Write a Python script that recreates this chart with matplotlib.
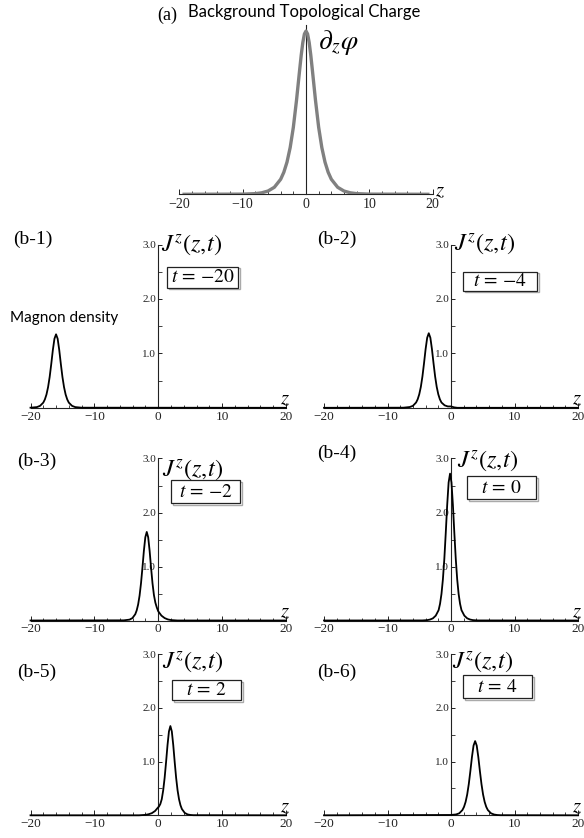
import matplotlib
matplotlib.use("Agg")
import matplotlib.pyplot as plt
from matplotlib import font_manager
from matplotlib.patches import Rectangle
from matplotlib.ticker import MultipleLocator

plt.rcParams['mathtext.fontset'] = 'stix'
plt.rcParams['font.family'] = ['Liberation Serif', 'DejaVu Serif']
plt.rcParams['axes.unicode_minus'] = True

W, H = 584, 838

# ---- data ----
# (a) background topological charge, arbitrary units (peak = 1)
A_Z = [-19.5, -10, -8, -7, -6, -5, -4, -3.5, -3, -2.5, -2, -1.5, -1, -0.75, -0.5, -0.25, 0,
       0.25, 0.5, 0.75, 1, 1.5, 2, 2.5, 3, 3.5, 4, 5, 6, 7, 8, 10, 19.5]
A_VAL = [0.0, 0.001, 0.004, 0.009, 0.020, 0.043, 0.092, 0.135, 0.197, 0.286, 0.410, 0.575, 0.763,
         0.854, 0.930, 0.982, 1.0,
         0.982, 0.930, 0.854, 0.763, 0.575, 0.410, 0.286, 0.197, 0.135, 0.092, 0.043, 0.020, 0.009,
         0.004, 0.001, 0.0]

# (b-1) t = -20
B1_Z = [-20, -19, -18.5, -18, -17.75, -17.5, -17.25, -17, -16.75, -16.5, -16.25, -16,
        -15.75, -15.5, -15.25, -15, -14.75, -14.5, -14.25, -14, -13.5, -13, -12, 20]
B1_J = [0.002, 0.013, 0.036, 0.095, 0.154, 0.244, 0.379, 0.567, 0.805, 1.062, 1.269, 1.35,
        1.269, 1.062, 0.805, 0.567, 0.379, 0.244, 0.154, 0.095, 0.036, 0.013, 0.002, 0.0]

# (b-2) t = -4
B2_Z = [-20, -7.5, -6.5, -6, -5.5, -5.25, -5, -4.75, -4.5, -4.25, -4, -3.75, -3.5,
        -3.25, -3, -2.75, -2.5, -2.25, -2, -1.75, -1.5, -1, -0.5, 0, 0.5, 1, 20]
B2_J = [0.0, 0.002, 0.014, 0.036, 0.097, 0.156, 0.248, 0.384, 0.575, 0.817, 1.077, 1.287, 1.37,
        1.287, 1.077, 0.817, 0.575, 0.384, 0.248, 0.156, 0.097, 0.045, 0.025, 0.025, 0.008, 0.0, 0.0]

# (b-3) t = -2
B3_Z = [-20, -5.4, -4.5, -4.05, -3.6, -3.375, -3.15, -2.925, -2.7, -2.475, -2.25, -2.025, -1.8,
        -1.575, -1.35, -1.125, -0.9, -0.675, -0.45, -0.225, 0, 0.5, 1, 1.5, 2, 3, 20]
B3_J = [0.0, 0.003, 0.016, 0.044, 0.116, 0.187, 0.296, 0.460, 0.689, 0.978, 1.290, 1.541, 1.64,
        1.541, 1.290, 0.978, 0.689, 0.470, 0.330, 0.240, 0.170, 0.090, 0.045, 0.020, 0.008, 0.0, 0.0]

# (b-4) t = 0
B4_Z = [-20, -4.5, -3.75, -3.3, -2.85, -2.4, -1.95, -1.725, -1.5, -1.275, -1.05, -0.825, -0.6,
        -0.375, -0.15, 0.075, 0.3, 0.525, 0.75, 0.975, 1.2, 1.425, 1.65, 2.1, 2.55, 3.0, 3.45,
        4.2, 20]
B4_J = [0.0, 0.001, 0.007, 0.018, 0.040, 0.090, 0.192, 0.310, 0.492, 0.763, 1.142, 1.623, 2.139,
        2.556, 2.72, 2.556, 2.139, 1.623, 1.142, 0.763, 0.492, 0.310, 0.192, 0.090, 0.040, 0.018,
        0.007, 0.001, 0.0]

# (b-5) t = 2
B5_Z = [-20, -3, -2, -1.5, -1, -0.5, 0, 0.1, 0.325, 0.55, 0.775, 1.0, 1.225, 1.45, 1.675, 1.9,
        2.125, 2.35, 2.575, 2.8, 3.025, 3.25, 3.475, 3.7, 4.15, 4.6, 5.05, 5.5, 20]
B5_J = [0.0, 0.0, 0.008, 0.020, 0.040, 0.080, 0.150, 0.160, 0.210, 0.300, 0.465, 0.697, 0.990,
        1.305, 1.560, 1.66,
        1.560, 1.305, 0.990, 0.697, 0.465, 0.300, 0.189, 0.117, 0.044, 0.016, 0.006, 0.002, 0.0]

# (b-6) t = 4
B6_Z = [-20, 0, 0.3, 0.8, 1.3, 1.8, 2.05, 2.3, 2.55, 2.8, 3.05, 3.3, 3.55, 3.8,
        4.05, 4.3, 4.55, 4.8, 5.05, 5.3, 5.55, 5.8, 6.3, 6.8, 7.3, 7.8, 20]
B6_J = [0.0, 0.006, 0.010, 0.016, 0.037, 0.098, 0.157, 0.249, 0.387, 0.580, 0.823, 1.085, 1.297, 1.38,
        1.297, 1.085, 0.823, 0.580, 0.387, 0.249, 0.157, 0.098, 0.037, 0.014, 0.005, 0.002, 0.0]

CURVES = [(B1_Z, B1_J), (B2_Z, B2_J), (B3_Z, B3_J), (B4_Z, B4_J), (B5_Z, B5_J), (B6_Z, B6_J)]
T_LABELS = ['-20', '-4', '-2', '0', '2', '4']
PANEL_LABELS = ['(b-1)', '(b-2)', '(b-3)', '(b-4)', '(b-5)', '(b-6)']
X_TICKS = [-20, -10, 0, 10, 20]
X_TICK_LABELS = ['\u221220', '\u221210', '0', '10', '20']
Y_TICKS = [1.0, 2.0, 3.0]
Y_TICK_LABELS = ['1.0', '2.0', '3.0']

# ---- layout (pixel coordinates of the reference) ----
COLS = [(30.5, 286.0), (324.0, 578.0)]
ROWS = [(244.5, 407.8), (458.5, 620.5), (654.0, 815.3)]
PANEL_LABEL_POS = [(13, 239), (317, 239), (17, 461), (317, 453), (17, 672), (317, 672)]
J_POS = [(161, 245), (454, 244), (162, 470), (457, 461), (162, 662), (452, 662)]
BOXES = [(167, 238, 267, 288), (463, 537, 272, 291), (171, 240, 480, 503),
         (467, 536, 476, 499), (172, 241, 680, 700), (463, 532, 675, 698)]

# a narrow sans for the two captions, if there is one
_names = {f.name for f in font_manager.fontManager.ttflist}
if 'Liberation Sans Narrow' in _names:
    CAPTION_FONT = ['Liberation Sans Narrow', 'DejaVu Sans']
    CAP_SIZE, MAG_SIZE = 13.5, 12
else:
    CAPTION_FONT = ['Lato', 'DejaVu Sans']
    CAP_SIZE, MAG_SIZE = 12, 11


def px_axes(fig, x0, x1, ytop, ybot):
    return fig.add_axes([x0 / W, 1 - ybot / H, (x1 - x0) / W, (ybot - ytop) / H])


def fig_text(fig, x, y, s, **kw):
    fig.text(x / W, 1 - y / H, s, **kw)


def style_axis(ax, xlab_size):
    for side in ('top', 'right'):
        ax.spines[side].set_visible(False)
    ax.spines['left'].set_position(('data', 0))
    for side in ('left', 'bottom'):
        ax.spines[side].set_linewidth(0.8)
        ax.spines[side].set_color('#222222')
    ax.set_xlim(-20, 20)
    ax.set_xticks(X_TICKS)
    ax.set_xticklabels(X_TICK_LABELS)
    ax.xaxis.set_minor_locator(MultipleLocator(2))
    ax.tick_params(axis='x', which='major', direction='in', length=3.5, width=0.7,
                   labelsize=xlab_size, pad=2, colors='#222222')
    ax.tick_params(axis='x', which='minor', direction='in', length=2, width=0.6, colors='#222222')
    ax.patch.set_visible(False)


fig = plt.figure(figsize=(W / 100, H / 100), dpi=100)

# ---- panel (a) ----
ax = px_axes(fig, 179.3, 432.7, 25.0, 194.3)
style_axis(ax, 10)
ax.set_ylim(0, 1.037)
ax.set_yticks([])
ax.tick_params(axis='x', pad=3)
ax.plot(A_Z, A_VAL, color='#808080', lw=2.4, solid_capstyle='butt', zorder=3)
ax.text(21.1, -0.01, r'$z$', fontsize=15, ha='center', va='baseline', clip_on=False)
ax.text(1.9, 0.93, r'$\partial_z\varphi$', fontsize=20, ha='left', va='center')
fig_text(fig, 157, 15, '(a)', fontsize=13, ha='left', va='center')
fig_text(fig, 188, 12, 'Background Topological Charge', fontsize=CAP_SIZE, ha='left', va='center',
         family=CAPTION_FONT)

# ---- panels (b-1) .. (b-6) ----
for i, (zs, js) in enumerate(CURVES):
    r, c = divmod(i, 2)
    x0, x1 = COLS[c]
    ytop, ybot = ROWS[r]
    ax = px_axes(fig, x0, x1, ytop, ybot)
    style_axis(ax, 9.5)
    ax.set_ylim(0, 3.0)
    ax.set_yticks(Y_TICKS)
    ax.set_yticklabels(Y_TICK_LABELS)
    ax.yaxis.set_minor_locator(MultipleLocator(0.5))
    ax.tick_params(axis='y', which='major', direction='in', length=3, width=0.7,
                   labelsize=8, pad=1.5, colors='#222222')
    ax.tick_params(axis='y', which='minor', direction='in', length=3, width=0.6, colors='#222222')
    ax.plot(zs, js, color='black', lw=1.3, zorder=3, clip_on=False)
    ax.text(19.8, 0.06, r'$z$', fontsize=15, ha='center', va='baseline', clip_on=False)

    lx, ly = PANEL_LABEL_POS[i]
    fig_text(fig, lx, ly, PANEL_LABELS[i], fontsize=14, ha='left', va='center')
    jx, jy = J_POS[i]
    fig_text(fig, jx, jy, r'$J^{z}(z,\!t)$', fontsize=17.5, ha='left', va='center')

    bl, br, bt, bb = BOXES[i]
    shadow = Rectangle(((bl + 1.5) / W, 1 - (bb + 1.5) / H), (br - bl) / W, (bb - bt) / H,
                       transform=fig.transFigure, facecolor='none', edgecolor='#aaaaaa', lw=1.0)
    box = Rectangle((bl / W, 1 - bb / H), (br - bl) / W, (bb - bt) / H,
                    transform=fig.transFigure, facecolor='white', edgecolor='#222222', lw=0.9)
    fig.patches.extend([shadow, box])
    fig_text(fig, (bl + br) / 2, (bt + bb) / 2 + 0.5, r'$t\,=\,{%s}$' % T_LABELS[i],
             fontsize=14, ha='center', va='center')

fig_text(fig, 10, 318, 'Magnon density', fontsize=MAG_SIZE, ha='left', va='center',
         family=CAPTION_FONT)

fig.savefig('out.png', dpi=100)
